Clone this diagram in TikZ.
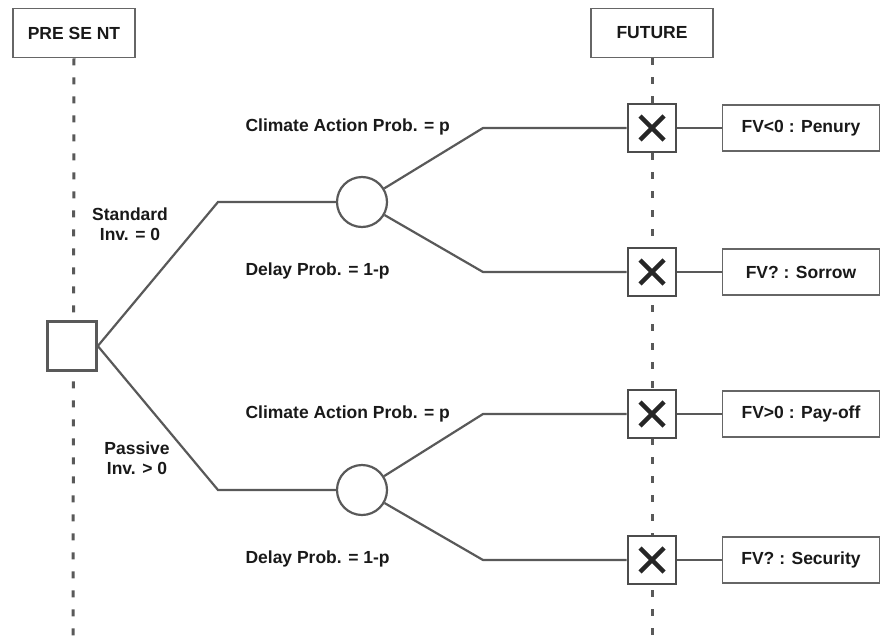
\documentclass[tikz,border=0pt]{standalone}
\usepackage{fontspec}
\setmainfont{Liberation Sans}
\usetikzlibrary{positioning}

\begin{document}
\begin{tikzpicture}[x=1pt, y=-1pt,
    txt/.style={font=\bfseries\fontsize{17.5}{20.5}\selectfont, text=black!90},
    header/.style={txt, draw=black!60, line width=1.8pt, fill=white,
      minimum width=122pt, minimum height=49pt},
    result/.style={txt, draw=black!60, line width=1.8pt, fill=white,
      minimum width=157pt, minimum height=46pt},
    decision/.style={draw=black!65, line width=2.6pt, fill=white, minimum size=49pt},
    chance/.style={circle, draw=black!65, line width=2.2pt, fill=white, minimum size=50pt},
    endbox/.style={draw=black!70, line width=2.8pt, fill=white, minimum size=48pt},
    branch/.style={draw=black!65, line width=2.2pt},
    timeline/.style={draw=black!65, line width=3pt, dash pattern=on 7pt off 12pt},
  ]

  % Definitions
  \def\xm{12}  % Half-width of the X mark

  \useasboundingbox (0,0) rectangle (893,637);

  % Time lines
  \node [header] (present) at (74,33) {PRE SE NT};
  \node [header] (future) at (652,33) {FUTURE};
  \coordinate (presentEnd) at (73,637);
  \coordinate (futureEnd) at (652,637);
  \draw [timeline] (present.south) -- (presentEnd);
  \draw [timeline] (future.south) -- (futureEnd);

  % Decision and chance nodes
  \node [decision] (dec) at (72,346) {};
  \node [chance] (up) at (362,202) {};
  \node [chance] (down) at (362,490) {};

  \coordinate (upBend) at (218,202);
  \coordinate (downBend) at (218,490);

  % End nodes and outcomes
  \foreach \i/\y/\res in {1/128/{FV<0 : Penury}, 2/272/{FV? : Sorrow},
                         3/414/{FV>0 : Pay-off}, 4/560/{FV? : Security}} {
    \node [endbox] (end\i) at (652,\y) {};
    \draw [line width=4.5pt, black!85] (end\i.center) ++(-\xm,-\xm) -- ++(2*\xm,2*\xm);
    \draw [line width=4.5pt, black!85] (end\i.center) ++(\xm,-\xm) -- ++(-2*\xm,2*\xm);
    \node [result] (res\i) at (801,\y) {\res};
    \coordinate (bend\i) at (483,\y);
    \draw [branch] (end\i) -- (res\i);
  }

  % Branches
  \draw [branch] (dec.east) -- (upBend) -- (up);
  \draw [branch] (dec.east) -- (downBend) -- (down);
  \draw [branch] (up) -- (bend1) -- (end1);
  \draw [branch] (up) -- (bend2) -- (end2);
  \draw [branch] (down) -- (bend3) -- (end3);
  \draw [branch] (down) -- (bend4) -- (end4);

  % Labels
  \node [txt, align=center] (stdLabel) at (130,224) {Standard\\Inv. = 0};
  \node [txt, align=center] (pasLabel) at (137,458) {Passive\\Inv. > 0};
  \node [txt, anchor=west] (act1) at (242,127) {Climate Action Prob. = p};
  \node [txt, anchor=west] (del1) at (242,271) {Delay Prob. = 1-p};
  \node [txt, anchor=west] (act2) at (242,414) {Climate Action Prob. = p};
  \node [txt, anchor=west] (del2) at (242,559) {Delay Prob. = 1-p};

\end{tikzpicture}
\end{document}
